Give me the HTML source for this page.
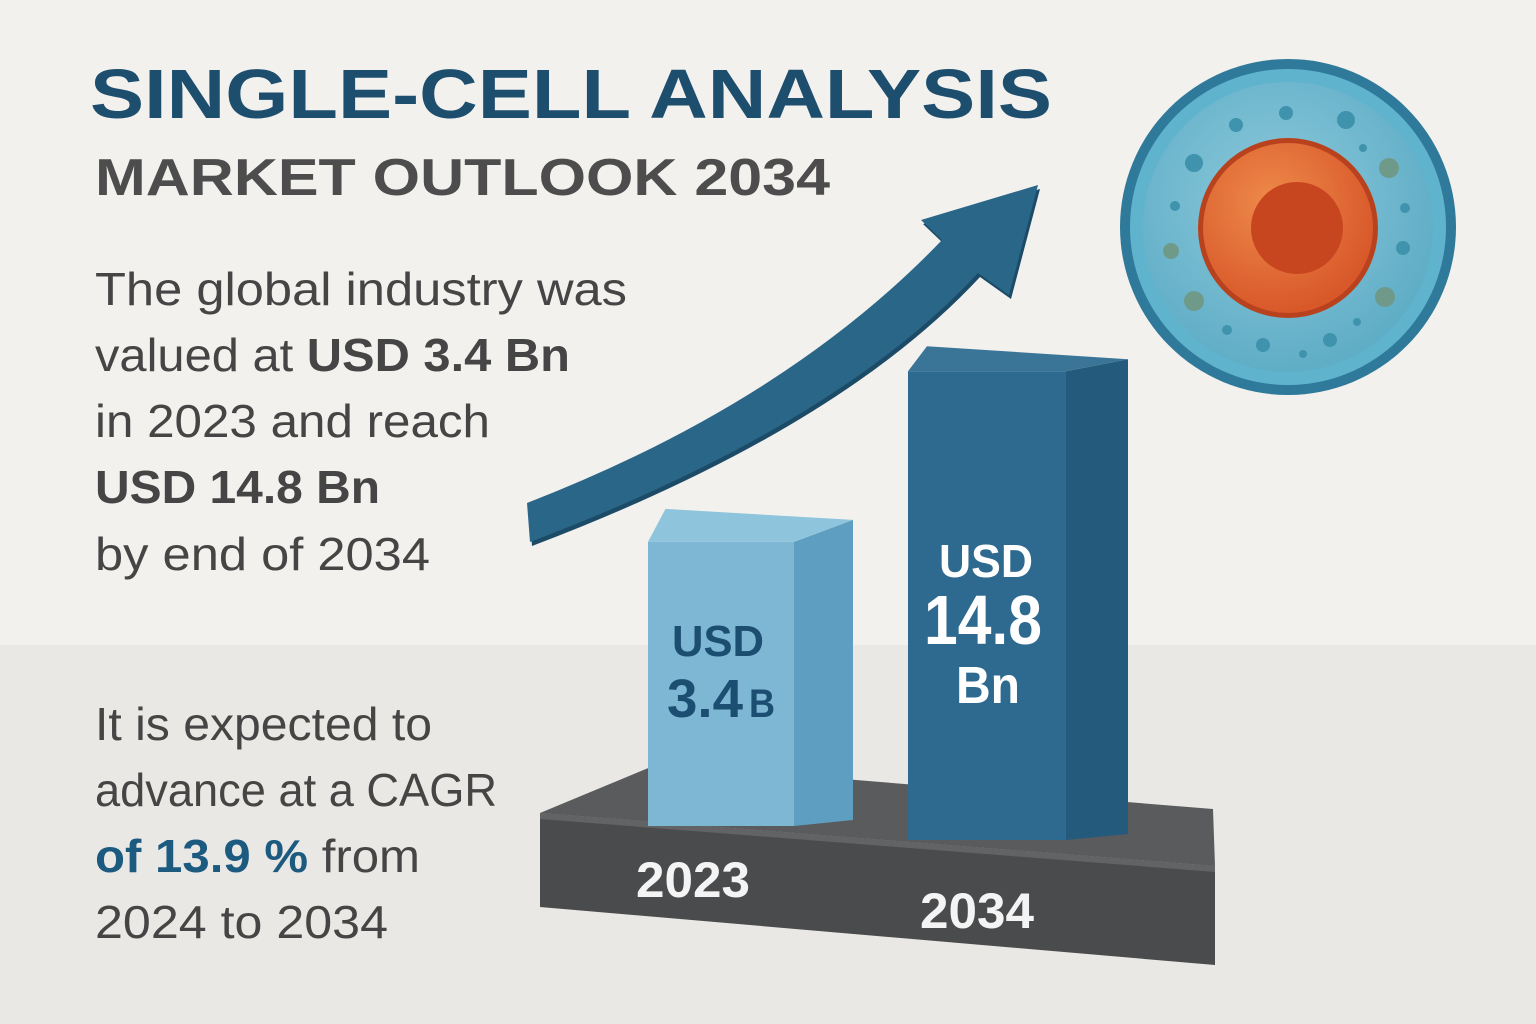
<!DOCTYPE html>
<html><head><meta charset="utf-8"><style>
html,body{margin:0;padding:0;width:1536px;height:1024px;overflow:hidden;background:#f3f1ee}
svg{display:block}
text{font-family:"Liberation Sans",sans-serif}
</style></head><body>
<svg id="chart" width="1536" height="1024" viewBox="0 0 1536 1024">
<defs>
<radialGradient id="cyto" cx="45%" cy="40%" r="60%"><stop offset="0" stop-color="#8cc9db"/><stop offset="1" stop-color="#5fadc6"/></radialGradient>
<radialGradient id="nuc" cx="40%" cy="35%" r="65%"><stop offset="0" stop-color="#ee8a4a"/><stop offset="1" stop-color="#d8582a"/></radialGradient>
</defs>
<rect x="0" y="0" width="1536" height="645" fill="#f3f1ee"/>
<rect x="0" y="645" width="1536" height="379" fill="#eae8e4"/>

<text x="90" y="118" font-size="70" font-weight="bold" fill="#1d4e6e" textLength="962" lengthAdjust="spacingAndGlyphs">SINGLE-CELL ANALYSIS</text>
<text x="95" y="195" font-size="52" font-weight="bold" fill="#4d4d4d" textLength="735" lengthAdjust="spacingAndGlyphs">MARKET OUTLOOK 2034</text>

<g font-size="46" fill="#454545">
<text x="95" y="305" textLength="532" lengthAdjust="spacingAndGlyphs">The global industry was</text>
<text x="95" y="371" textLength="475" lengthAdjust="spacingAndGlyphs">valued at <tspan font-weight="bold">USD 3.4 Bn</tspan></text>
<text x="95" y="437" textLength="395" lengthAdjust="spacingAndGlyphs">in 2023 and reach</text>
<text x="95" y="503" font-weight="bold" textLength="285" lengthAdjust="spacingAndGlyphs">USD 14.8 Bn</text>
<text x="95" y="570" textLength="335" lengthAdjust="spacingAndGlyphs">by end of 2034</text>
</g>
<g font-size="46" fill="#454545">
<text x="95" y="740" textLength="337" lengthAdjust="spacingAndGlyphs">It is expected to</text>
<text x="95" y="806" textLength="402" lengthAdjust="spacingAndGlyphs">advance at a CAGR</text>
<text x="95" y="872" textLength="325" lengthAdjust="spacingAndGlyphs"><tspan font-weight="bold" fill="#1d5a80">of 13.9 %</tspan> from</text>
<text x="95" y="938" textLength="293" lengthAdjust="spacingAndGlyphs">2024 to 2034</text>
</g>

<!-- growth arrow -->
<g>
<path d="M527,503 Q787,402 942,240 L921,220 L1038,185 L1009,295 L978,273 Q836,426 530,542 Z" fill="#1c4b67" transform="translate(2,4)"/>
<path d="M527,503 Q787,402 942,240 L921,220 L1038,185 L1009,295 L978,273 Q836,426 530,542 Z" fill="#2a6688"/>
</g>

<!-- cell -->
<g>
<circle cx="1288" cy="227" r="168" fill="#2f7a9a"/>
<circle cx="1288" cy="227" r="158" fill="#5fb3cc"/>
<circle cx="1288" cy="227" r="145" fill="url(#cyto)"/>
<g fill="#3f93ad">
<circle cx="1236" cy="125" r="7"/><circle cx="1286" cy="113" r="7"/><circle cx="1346" cy="120" r="9"/>
<circle cx="1194" cy="163" r="9"/><circle cx="1363" cy="148" r="4"/><circle cx="1175" cy="206" r="5"/>
<circle cx="1405" cy="208" r="5"/><circle cx="1403" cy="248" r="7"/><circle cx="1227" cy="330" r="5"/>
<circle cx="1263" cy="345" r="7"/><circle cx="1330" cy="340" r="7"/><circle cx="1357" cy="322" r="4"/><circle cx="1303" cy="354" r="4"/>
</g>
<g fill="#6f9a8a"><circle cx="1389" cy="168" r="10"/><circle cx="1171" cy="251" r="8"/><circle cx="1194" cy="301" r="10"/><circle cx="1385" cy="297" r="10"/></g>
<circle cx="1288" cy="228" r="90" fill="#b8421e"/>
<circle cx="1288" cy="228" r="85" fill="url(#nuc)"/>
<circle cx="1297" cy="228" r="46" fill="#c7461f"/>
</g>

<!-- base platform -->
<g>
<path d="M540,813 L658,764 L1213,809 L1215,866 Z" fill="#5a5b5d"/>
<path d="M540,813 L1215,866 L1215,965 L540,907 Z" fill="#4a4b4d"/>
<path d="M540,813 L1215,866 L1215,872 L540,819 Z" fill="#626365"/>
</g>
<g id="bars"></g>
</svg>
<script>
const categories = ["2023", "2034"];
const values = [3.4, 14.8];
const valueLabels = [["USD", "3.4", "B"], ["USD", "14.8", "Bn"]];

// height scale (perspective-compressed)
function yScale(v) { return 229 + v * 16.2; }
function xScale(i) { return 648 + i * 260; }
const geo = [{w:146, d:59, base:826, lift:22, topd:33, top:"#8ec4dc", front:"#7db7d4", side:"#5e9fc1", txt:"#1b4e70"},
             {w:158, d:62, base:840, lift:12, topd:25, top:"#3a7598", front:"#2e6a8f", side:"#245a7c", txt:"#ffffff"}];
const ns = "http://www.w3.org/2000/svg";
const g = document.getElementById('bars');
categories.forEach((c, i) => {
  const s = geo[i];
  const x = xScale(i), h = yScale(values[i]);
  const yb = s.base, yt = yb - h;
  const grp = document.createElementNS(ns, 'g');
  
  
  const side = document.createElementNS(ns, 'path');
  side.setAttribute('d', `M${x+s.w},${yt} L${x+s.w+s.d},${yt-s.lift} L${x+s.w+s.d},${yb-6} L${x+s.w},${yb} Z`);
  side.setAttribute('fill', s.side);
  
  
  const top = document.createElementNS(ns, 'path');
  top.setAttribute('d', `M${x},${yt} L${x+s.w*0.12},${yt-s.topd} L${x+s.w+s.d},${yt-s.lift} L${x+s.w},${yt} Z`);
  top.setAttribute('fill', s.top);
  
  
  const front = document.createElementNS(ns, 'rect');
  front.setAttribute('x', x); front.setAttribute('y', yt);
  front.setAttribute('width', s.w); front.setAttribute('height', h);
  front.setAttribute('fill', s.front);
  
  
  grp.appendChild(side); grp.appendChild(top); grp.appendChild(front);
  g.appendChild(grp);
  const L = valueLabels[i];
  const specs = i === 0
    ? [{x:718, y:yt+114, fs:44, tl:92}, {x:705, y:yt+175, fs:54, tl:76}, {x:762, y:yt+175, fs:40, tl:26}]
    : [{x:986, y:yt+206, fs:46, tl:94}, {x:983, y:yt+273, fs:70, tl:118}, {x:988, y:yt+332, fs:52, tl:64}];
  L.forEach((txt, k) => {
    const sp = specs[k];
    const t = document.createElementNS(ns, 'text');
    t.setAttribute('x', sp.x); t.setAttribute('y', sp.y);
    t.setAttribute('text-anchor', 'middle');
    t.setAttribute('font-size', sp.fs);
    t.setAttribute('font-weight', 'bold');
    t.setAttribute('textLength', sp.tl);
    t.setAttribute('lengthAdjust', 'spacingAndGlyphs');
    t.setAttribute('fill', s.txt);
    
    
    t.textContent = txt;
    grp.appendChild(t);
  });
  const yl = document.createElementNS(ns, 'text');
  yl.setAttribute('x', i === 0 ? 693 : 977);
  yl.setAttribute('y', i === 0 ? 897 : 928);
  yl.setAttribute('text-anchor', 'middle');
  yl.setAttribute('font-size', 50);
  yl.setAttribute('font-weight', 'bold');
  yl.setAttribute('textLength', 114);
  yl.setAttribute('lengthAdjust', 'spacingAndGlyphs');
  yl.setAttribute('fill', '#f4f4f4');
  
  
  yl.textContent = c;
  g.appendChild(yl);
});
</script>
</body></html>
